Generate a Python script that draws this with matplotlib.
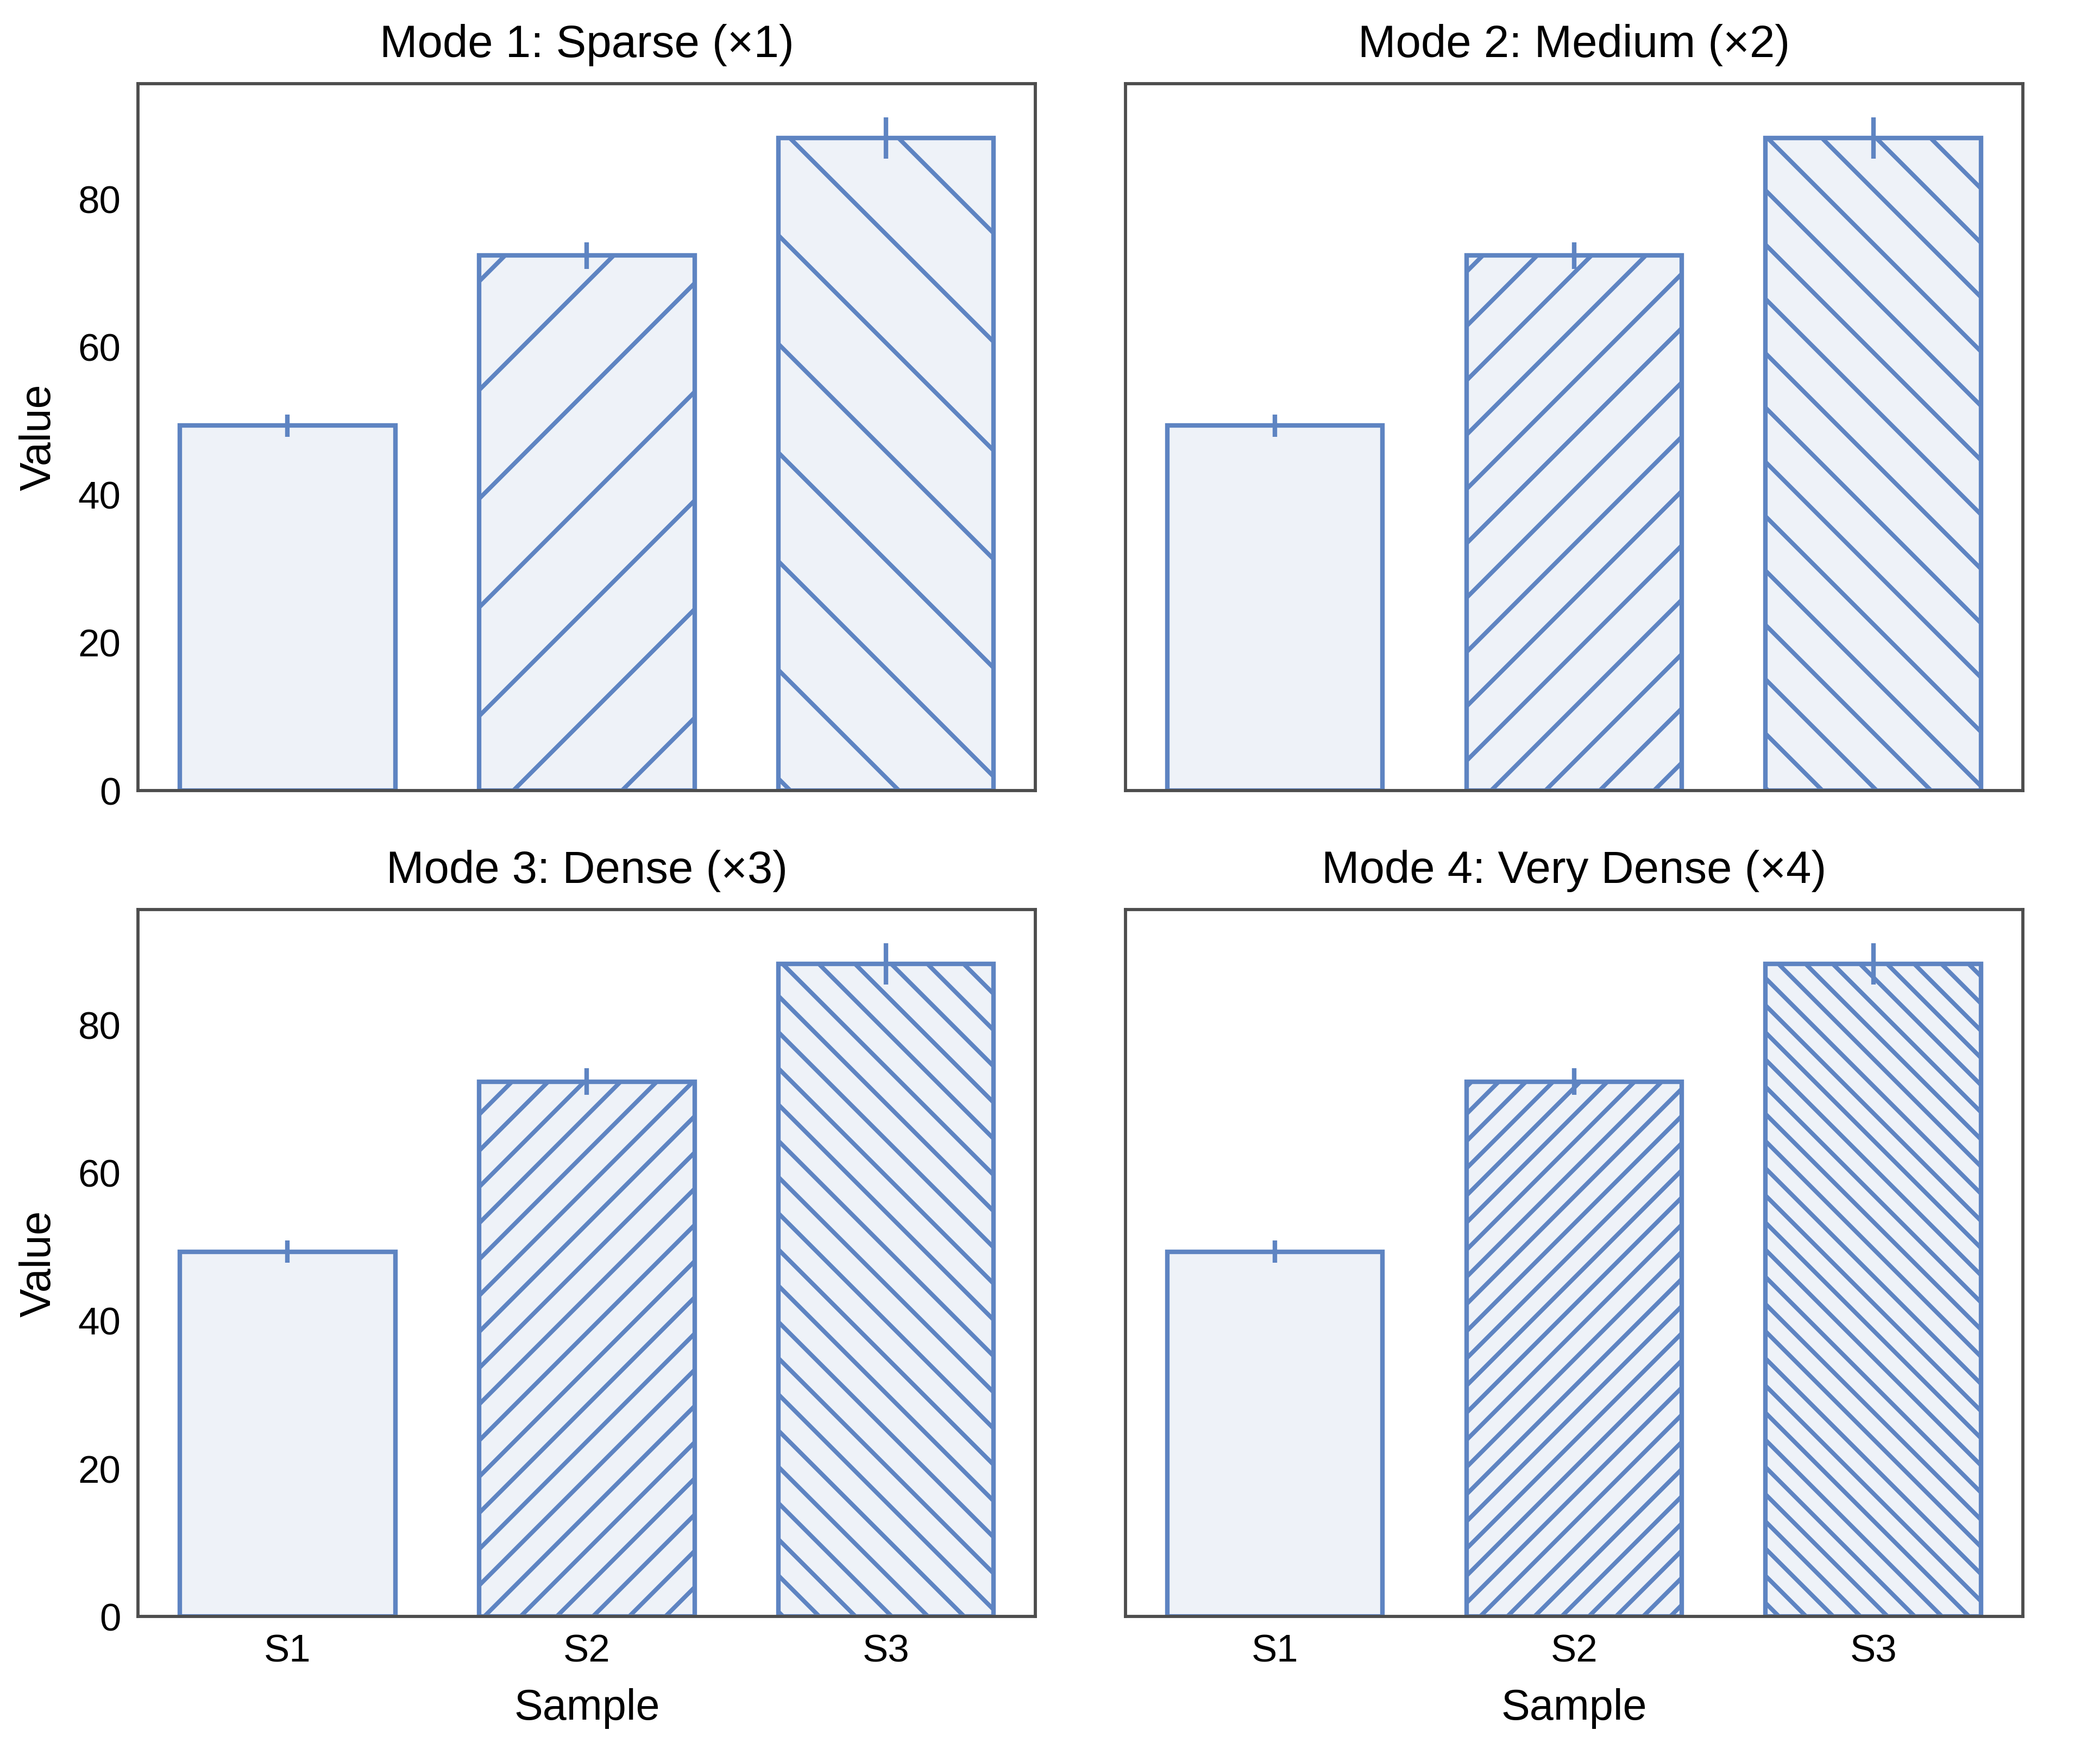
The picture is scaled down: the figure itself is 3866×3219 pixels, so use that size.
import matplotlib
matplotlib.use('Agg')
import matplotlib.pyplot as plt
from matplotlib.colors import to_rgba

plt.rcParams['font.family'] = ['Liberation Sans', 'DejaVu Sans']
plt.rcParams['hatch.linewidth'] = 0.95

# data
samples = ['S1', 'S2', 'S3']
values = [49.3, 72.3, 88.2]
errors = [1.5, 1.8, 2.8]
mode_titles = ['Mode 1: Sparse (×1)', 'Mode 2: Medium (×2)',
               'Mode 3: Dense (×3)', 'Mode 4: Very Dense (×4)']
repeat = [1, 2, 3, 4]
base_hatches = ['', '/', '\\']

color = '#5e84c2'
fill = to_rgba(color, 0.1)

fig, axes = plt.subplots(2, 2, figsize=(3866 / 600, 3220 / 600), dpi=600,
                         sharex=True, sharey=True)
fig.subplots_adjust(left=0.0657, right=0.9633, top=0.9519, bottom=0.0758,
                    wspace=0.1, hspace=0.169)

for ax, title, k in zip(axes.flat, mode_titles, repeat):
    x = range(len(samples))
    bars = ax.bar(x, values, width=0.72, color=fill, edgecolor=color, linewidth=1.0)
    for bar, h in zip(bars, base_hatches):
        if h:
            bar.set_hatch(h * k)
    ax.errorbar(x, values, yerr=errors, fmt='none', ecolor=color, elinewidth=1.0, capsize=0)
    ax.set_title(title, fontsize=10)
    ax.set_xticks(list(x))
    ax.set_xticklabels(samples)
    ax.set_xlim(-0.5, 2.5)
    ax.set_yticks([0, 20, 40, 60, 80])
    ax.tick_params(length=0, pad=3.8, labelsize=8.5)
    for s in ax.spines.values():
        s.set_color('0.3')
        s.set_linewidth(0.7)

for ax in axes[1]:
    ax.set_xlabel('Sample', fontsize=9.5)
for ax in axes[:, 0]:
    ax.set_ylabel('Value', fontsize=9.5)

fig.savefig('out.png', dpi=600, facecolor='white')
